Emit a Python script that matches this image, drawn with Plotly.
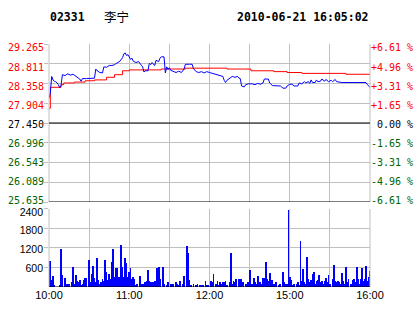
import plotly.graph_objects as go

# ---- header ----
stock_code = "02331"
stock_name = "李宁"
timestamp = "2010-06-21 16:05:02"

# ---- axes ----
price_levels = [29.265, 28.811, 28.358, 27.904, 27.450, 26.996, 26.543, 26.089, 25.635]
price_labels = ["29.265", "28.811", "28.358", "27.904", "27.450", "26.996", "26.543", "26.089", "25.635"]
pct_labels = ["+6.61 %", "+4.96 %", "+3.31 %", "+1.65 %", "\u00a00.00 %", "-1.65 %", "-3.31 %", "-4.96 %", "-6.61 %"]
level_colors = ["#FF0000"] * 4 + ["#000000"] + ["#006400"] * 4
prev_close = 27.450
time_ticks = [0, 30, 60, 90, 120, 150, 180, 210, 240]   # trading minutes since 10:00
time_labels = ["10:00", "", "11:00", "", "12:00", "", "15:00", "", "16:00"]
vol_ticks = [600, 1200, 1800, 2400]
vol_labels = ["600", "1200", "1800", "2400"]

# ---- price line (minute, price) ----
price_points = [
    (0, 28.02), (1, 28.14), (2, 28.52), (3, 28.44), (4, 28.41), (5, 28.40), (6, 28.37), (7, 28.33),
    (8, 28.26), (9, 28.31), (10, 28.56), (12, 28.54), (14, 28.58), (16, 28.55), (18, 28.57), (20, 28.53),
    (22, 28.50), (23, 28.46), (24, 28.41), (25, 28.47), (28, 28.47), (31, 28.48), (34, 28.48), (35, 28.69),
    (36, 28.65), (38, 28.61), (40, 28.60), (41, 28.74), (43, 28.73), (45, 28.77), (47, 28.77), (49, 28.79),
    (51, 28.83), (53, 28.87), (55, 28.95), (56, 29.04), (57, 29.06), (58, 29.00), (59, 29.02), (60, 28.97),
    (61, 28.91), (62, 28.94), (63, 28.87), (65, 28.84), (67, 28.86), (69, 28.78), (70, 28.74), (71, 28.62),
    (72, 28.65), (74, 28.65), (75, 28.82), (76, 28.79), (77, 28.84), (79, 28.77), (80, 28.89), (82, 28.86),
    (83, 28.94), (84, 28.97), (86, 28.97), (87, 28.60), (88, 28.74), (89, 28.68), (90, 28.72), (91, 28.66),
    (93, 28.64), (95, 28.61), (97, 28.64), (99, 28.61), (101, 28.69), (102, 28.80), (105, 28.80), (107, 28.80),
    (108, 28.70), (110, 28.63), (112, 28.61), (114, 28.63), (116, 28.60), (118, 28.63), (120, 28.61),
    (122, 28.59), (124, 28.57), (126, 28.56), (128, 28.54), (130, 28.52), (131, 28.43), (132, 28.38),
    (133, 28.43), (135, 28.48), (137, 28.52), (139, 28.50), (141, 28.52), (142, 28.48), (143, 28.47),
    (144, 28.30), (146, 28.28), (147, 28.33), (149, 28.35), (152, 28.35), (154, 28.33), (156, 28.36),
    (158, 28.34), (160, 28.37), (161, 28.46), (164, 28.46), (165, 28.37), (167, 28.31), (170, 28.30),
    (173, 28.30), (175, 28.25), (177, 28.25), (178, 28.30), (180, 28.34), (182, 28.34), (183, 28.30),
    (186, 28.30), (187, 28.37), (189, 28.35), (191, 28.40), (192, 28.37), (194, 28.40), (195, 28.36),
    (196, 28.44), (197, 28.38), (199, 28.38), (200, 28.44), (201, 28.40), (203, 28.41), (204, 28.46),
    (206, 28.41), (207, 28.45), (209, 28.40), (211, 28.43), (212, 28.40), (214, 28.45), (215, 28.40),
    (217, 28.39), (219, 28.38), (237, 28.38), (238, 28.33), (240, 28.27),
]

# ---- average price line (minute, price) ----
avg_points = [
    (0, 27.79), (1, 28.27), (9, 28.33), (11, 28.37), (19, 28.39), (27, 28.42), (34, 28.44), (43, 28.50),
    (49, 28.56), (55, 28.65), (60, 28.67), (84, 28.69), (102, 28.71), (133, 28.69), (151, 28.65),
    (168, 28.63), (178, 28.61), (189, 28.59), (222, 28.57), (240, 28.57),
]

# ---- volume (minute, volume) ----
volume_points = [
    (0, 554), (1, 810), (2, 215), (3, 328), (4, 60), (8, 60), (9, 1170), (10, 370), (12, 267), (13, 92),
    (14, 92), (15, 92), (17, 164), (18, 605), (19, 92), (20, 370), (21, 195), (22, 144), (23, 226), (24, 60),
    (25, 92), (26, 226), (27, 267), (28, 277), (30, 830), (31, 144), (32, 400), (33, 636), (34, 267),
    (35, 144), (36, 882), (37, 226), (38, 92), (39, 144), (40, 246), (41, 195), (42, 830), (43, 472),
    (44, 226), (45, 400), (46, 246), (47, 760), (48, 1170), (49, 300), (50, 575), (51, 575), (52, 300),
    (53, 300), (54, 1293), (55, 605), (56, 300), (57, 882), (58, 740), (59, 300), (60, 472), (61, 575),
    (62, 246), (63, 300), (64, 246), (65, 60), (66, 92), (68, 350), (69, 92), (70, 92), (71, 92), (72, 144),
    (73, 195), (74, 533), (75, 195), (76, 144), (77, 164), (78, 164), (79, 195), (81, 575), (82, 605),
    (83, 246), (85, 626), (86, 92), (88, 60), (89, 144), (91, 92), (93, 92), (95, 144), (96, 92), (97, 60),
    (98, 195), (100, 92), (101, 350), (103, 1250), (104, 1036), (105, 226), (106, 60), (108, 92), (110, 60),
    (111, 92), (113, 60), (114, 60), (115, 60), (117, 195), (118, 60), (119, 60), (121, 195), (122, 164),
    (123, 400), (125, 92), (126, 195), (127, 60), (128, 144), (129, 92), (130, 164), (131, 144), (132, 195),
    (133, 60), (135, 144), (136, 1046), (137, 92), (138, 195), (139, 144), (140, 246), (142, 246),
    (143, 246), (144, 246), (145, 144), (147, 92), (148, 60), (149, 144), (150, 523), (152, 92), (153, 277),
    (154, 144), (155, 92), (156, 328), (157, 92), (158, 164), (159, 92), (160, 277), (161, 267), (162, 780),
    (163, 246), (164, 195), (165, 431), (166, 144), (167, 215), (168, 92), (169, 92), (170, 144), (172, 60),
    (173, 92), (175, 472), (176, 144), (177, 92), (178, 92), (179, 2370), (180, 318), (181, 226), (182, 60),
    (183, 92), (185, 92), (186, 144), (187, 60), (188, 1426), (189, 195), (190, 554), (191, 144), (192, 92),
    (193, 913), (194, 246), (195, 144), (196, 226), (197, 400), (198, 451), (199, 92), (200, 195),
    (201, 226), (202, 370), (203, 164), (204, 195), (205, 92), (206, 195), (207, 277), (208, 144),
    (209, 370), (210, 92), (212, 246), (213, 677), (214, 195), (215, 144), (216, 195), (217, 144), (218, 92),
    (219, 431), (220, 195), (221, 92), (222, 605), (223, 164), (224, 246), (226, 92), (227, 226), (228, 246),
    (229, 144), (230, 605), (231, 246), (232, 92), (233, 246), (234, 585), (235, 195), (236, 246), (237, 636),
    (238, 195), (239, 298), (240, 503),
]

price_min = [p[0] for p in price_points]
price_val = [p[1] for p in price_points]
avg_min = [p[0] for p in avg_points]
avg_val = [p[1] for p in avg_points]
vol_min = [p[0] for p in volume_points]
vol_val = [p[1] for p in volume_points]

GRID = "#C0C0C0"
MONO = "DejaVu Sans Mono"
SANS = "Liberation Sans"

left_text = [f'<span style="color:{c}">{t}</span>' for t, c in zip(price_labels, level_colors)]
right_text = [f'<span style="color:{c}">{t}</span>' for t, c in zip(pct_labels, level_colors)]

# label axes use a slightly wider range than the grid axes (labels sit a bit compressed)
price_range = [25.635, 29.265]
price_label_range = [25.594, 29.360]
vol_range = [0, 2400]
vol_label_range = [0, 2496]

fig = go.Figure()
fig.add_trace(go.Scatter(x=avg_min, y=avg_val, mode="lines", line=dict(color="#FF0000", width=1, shape="hv"),
                         xaxis="x", yaxis="y", hoverinfo="skip"))
fig.add_trace(go.Scatter(x=price_min, y=price_val, mode="lines", line=dict(color="#0000FF", width=1),
                         xaxis="x", yaxis="y", hoverinfo="skip"))
for ax in ["y2", "y4"]:
    fig.add_trace(go.Scatter(x=[0, 240], y=[prev_close, prev_close], mode="lines", line=dict(width=0),
                             opacity=0, xaxis="x", yaxis=ax, hoverinfo="skip"))
fig.add_trace(go.Bar(x=vol_min, y=vol_val, marker=dict(color="#0000FF", line=dict(width=0)), width=0.6,
                     xaxis="x2", yaxis="y3", hoverinfo="skip"))
fig.add_trace(go.Scatter(x=[0, 240], y=[0, 0], mode="lines", line=dict(width=0), opacity=0,
                         xaxis="x2", yaxis="y5", hoverinfo="skip"))

top_dom = [0.3498, 1.0]
bot_dom = [0.0, 0.321]
mono_font = dict(family=MONO, size=10, color="#000000")
sans_font = dict(family=SANS, size=10.5, color="#000000")

fig.update_layout(
    width=414, height=314,
    margin=dict(l=49, r=44, t=44, b=27, pad=0),
    paper_bgcolor="white", plot_bgcolor="white",
    showlegend=False, bargap=0,
    xaxis=dict(domain=[0, 1], anchor="y", range=[0, 240], tickvals=time_ticks, showticklabels=False,
               showgrid=True, gridcolor=GRID, gridwidth=1, zeroline=False, ticks="", showline=False,
               automargin=False),
    yaxis=dict(domain=top_dom, range=price_range, tickvals=price_levels, showticklabels=False,
               ticks="outside", ticklen=4, tickcolor=GRID, showgrid=True, gridcolor=GRID, gridwidth=1,
               zeroline=False, showline=False, automargin=False),
    yaxis4=dict(overlaying="y", side="left", anchor="x", range=price_label_range, tickvals=price_levels,
                ticktext=left_text, ticks="", showgrid=False, zeroline=False, showline=False,
                ticklabelstandoff=4, tickfont=mono_font, automargin=False),
    yaxis2=dict(overlaying="y", side="right", anchor="x", range=price_label_range, tickvals=price_levels,
                ticktext=right_text, ticks="", showgrid=False, zeroline=False, showline=False,
                ticklabelstandoff=0, tickfont=mono_font, automargin=False),
    xaxis2=dict(domain=[0, 1], anchor="y3", range=[0, 240], tickvals=time_ticks, ticktext=time_labels,
                showgrid=True, gridcolor=GRID, gridwidth=1, zeroline=False, ticks="", showline=False,
                tickfont=dict(family=SANS, size=11, color="#000000"), automargin=False),
    yaxis3=dict(domain=bot_dom, range=vol_range, tickvals=vol_ticks, showticklabels=False,
                ticks="outside", ticklen=4, tickcolor=GRID, showgrid=True, gridcolor=GRID, gridwidth=1,
                zeroline=False, showline=False, automargin=False),
    yaxis5=dict(overlaying="y3", side="left", anchor="x2", range=vol_label_range, tickvals=vol_ticks,
                ticktext=vol_labels, ticks="", showgrid=False, zeroline=False, showline=False,
                ticklabelstandoff=5, tickfont=sans_font, automargin=False),
)

shapes = []
# price panel frame
shapes.append(dict(type="line", xref="paper", yref="y", x0=0, x1=0, y0=25.635, y1=29.265, line=dict(color=GRID, width=1)))
shapes.append(dict(type="line", xref="paper", yref="y", x0=1, x1=1, y0=25.635, y1=29.265, line=dict(color=GRID, width=1)))
shapes.append(dict(type="line", xref="paper", yref="y", x0=0, x1=1, y0=prev_close, y1=prev_close, line=dict(color="#000000", width=1)))
shapes.append(dict(type="line", xref="paper", yref="y", x0=0, x1=1, y0=25.635, y1=25.635, line=dict(color="#000000", width=1)))
# volume panel frame
shapes.append(dict(type="line", xref="paper", yref="y3", x0=0, x1=0, y0=0, y1=2400, line=dict(color=GRID, width=1)))
shapes.append(dict(type="line", xref="paper", yref="y3", x0=1, x1=1, y0=0, y1=2400, line=dict(color=GRID, width=1)))
shapes.append(dict(type="line", xref="paper", yref="y3", x0=0, x1=1, y0=0, y1=0, line=dict(color="#000000", width=1)))
fig.update_layout(shapes=shapes)

W = 414 - 49 - 44
H = 314 - 44 - 27
def px(xp):
    return (xp - 49) / W
def py(yp):
    return (314 - 27 - yp) / H

fig.add_annotation(x=px(48), y=py(16.5), xref="paper", yref="paper", xanchor="left", yanchor="middle",
                   text=f"<b>{stock_code}</b>", showarrow=False,
                   font=dict(family=MONO, size=11.5, color="#000000"))
fig.add_annotation(x=px(102), y=py(16), xref="paper", yref="paper", xanchor="left", yanchor="middle",
                   text=stock_name, showarrow=False,
                   font=dict(family="Noto Sans CJK SC", size=12.5, color="#000000"))
fig.add_annotation(x=px(371), y=py(16.5), xref="paper", yref="paper", xanchor="right", yanchor="middle",
                   text=f"<b>{timestamp}</b>", showarrow=False,
                   font=dict(family=MONO, size=11.5, color="#000000"))

fig.write_html("out.html", config={"displayModeBar": False})
